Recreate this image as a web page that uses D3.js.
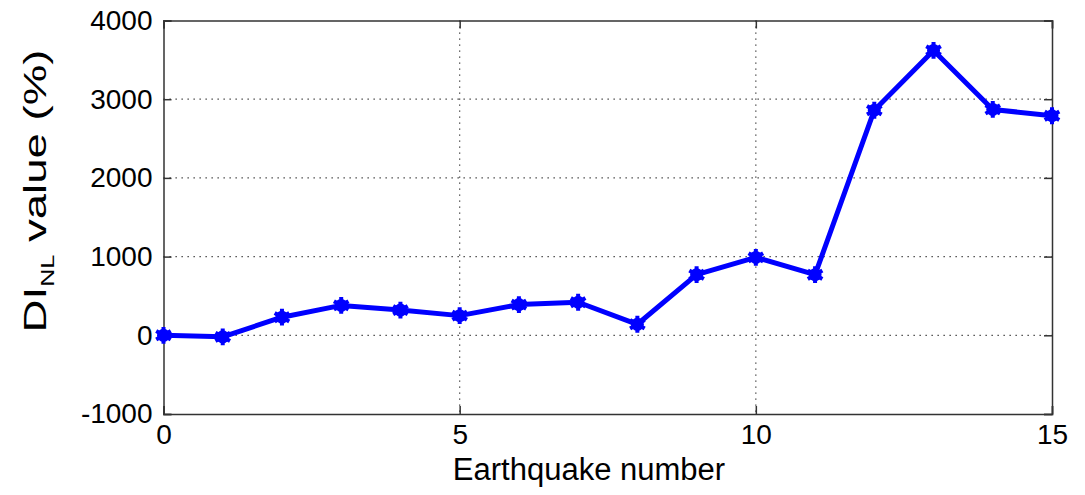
<!DOCTYPE html>
<html><head><meta charset="utf-8">
<script src="https://cdn.jsdelivr.net/npm/d3@7"></script>
<style>body{margin:0;background:#fff}svg{display:block}text{font-family:"Liberation Sans",Arial,sans-serif}</style>
</head><body>
<svg id="c" width="1085" height="495"></svg>
<script>
const earthquakes = [0,1,2,3,4,5,6,7,8,9,10,11,12,13,14,15];
const diValues = [0,-20,230,380,320,250,390,420,140,770,990,770,2860,3620,2870,2790];
const xTicks = [0,5,10,15];
const yTicks = [-1000,0,1000,2000,3000,4000];

const svg = d3.select("#c");
const L=163.5, R=1052, T=20.5, B=414;
const x = d3.scaleLinear().domain([0,15]).range([L,R]);
const y = d3.scaleLinear().domain([-1000,4000]).range([B,T]);
const fmt = d => String(d);

// grid
const g = svg.append("g");
g.selectAll(".gx").data(xTicks.filter(d=>d>0&&d<15)).enter().append("line")
  .attr("x1",d=>x(d)).attr("x2",d=>x(d)).attr("y1",T).attr("y2",B)
  .attr("stroke","#333").attr("stroke-width",1.2).attr("stroke-dasharray","1.3,4.7");
g.selectAll(".gy").data(yTicks.filter(d=>d>-1000&&d<4000)).enter().append("line")
  .attr("x1",L).attr("x2",R).attr("y1",d=>y(d)).attr("y2",d=>y(d))
  .attr("stroke","#333").attr("stroke-width",1.2).attr("stroke-dasharray","1.3,4.7");

// axes
const ax = svg.append("g").attr("transform",`translate(0,${B})`)
  .call(d3.axisBottom(x).tickValues(xTicks).tickSize(-8).tickPadding(10).tickFormat(fmt));
const ay = svg.append("g").attr("transform",`translate(${L},0)`)
  .call(d3.axisLeft(y).tickValues(yTicks).tickSize(-8).tickPadding(11).tickFormat(fmt));
svg.append("g").attr("transform",`translate(0,${T})`)
  .call(d3.axisTop(x).tickValues(xTicks).tickSize(-8).tickFormat(""));
svg.append("g").attr("transform",`translate(${R},0)`)
  .call(d3.axisRight(y).tickValues(yTicks).tickSize(-8).tickFormat(""));
svg.selectAll(".domain").attr("stroke","#333").attr("stroke-width",1.5);
svg.selectAll(".tick line").attr("stroke","#333").attr("stroke-width",1.5);
svg.selectAll(".tick text").attr("font-size",28).attr("fill","#000")
  .attr("font-family","'Liberation Sans',Arial,sans-serif");
ax.selectAll(".tick text").attr("dy","0.71em");

// labels
svg.append("text").attr("x",589).attr("y",480).attr("text-anchor","middle")
  .attr("font-size",31).text("Earthquake number");
const ylg = svg.append("g").attr("transform",`translate(46,191) rotate(-90)`);
const yl = ylg.append("text").attr("text-anchor","middle").attr("font-size",38);
yl.append("tspan").text("DI");
yl.append("tspan").attr("dy",10).attr("font-size",21).text("NL");
yl.append("tspan").attr("dy",-10).text(" value (%)");
const bw = yl.node().getBBox().width;
yl.attr("transform",`scale(${283/bw},0.84)`);

// line
const data = earthquakes.map((e,i)=>({e, v:diValues[i]}));
svg.append("path").datum(data)
  .attr("fill","none").attr("stroke","#0000ff").attr("stroke-width",5).attr("stroke-linejoin","round")
  .attr("d",d3.line().x(d=>x(d.e)).y(d=>y(d.v)));
const mk = svg.append("g").selectAll("g").data(data).enter().append("g")
  .attr("transform",d=>`translate(${x(d.e)},${y(d.v)})`);
mk.append("circle").attr("r",6.5).attr("fill","#0000ff");
mk.append("path").attr("d",d3.symbol().type(d3.symbolAsterisk).size(200)())
  .attr("stroke","#0000ff").attr("stroke-width",4).attr("fill","none");
</script>
</body></html>
